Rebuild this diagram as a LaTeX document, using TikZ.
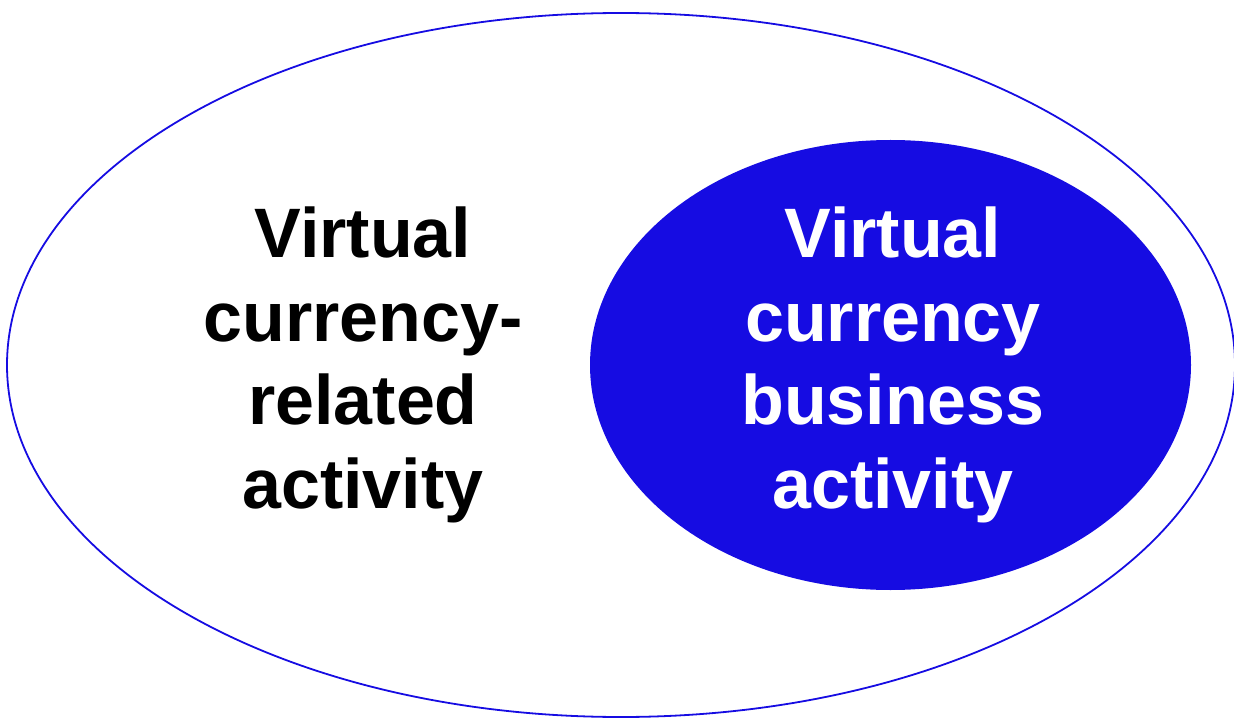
\documentclass[tikz,border=0pt]{standalone}
\usepackage{fontspec}
\setmainfont{Liberation Sans}
\definecolor{vcblue}{RGB}{22,12,226}
\begin{document}
\begin{tikzpicture}[x=1pt,y=-1pt,
  label text/.style={font=\fontsize{70}{83.5}\selectfont\bfseries, align=center, inner sep=0pt}]
  \useasboundingbox (0,0) rectangle (1234,719);
  % outer set: virtual currency-related activity
  \draw[vcblue, line width=1.8pt] (621,365) ellipse [x radius=614, y radius=352];
  % inner set: virtual currency business activity
  \fill[vcblue] (890.5,365) ellipse [x radius=300.5, y radius=225];
  \node[label text, text=black] (related) at (363,365) {Virtual\\currency-\\related\\activity};
  \node[label text, text=white] (business) at (893,365) {Virtual\\currency\\business\\activity};
\end{tikzpicture}
\end{document}
